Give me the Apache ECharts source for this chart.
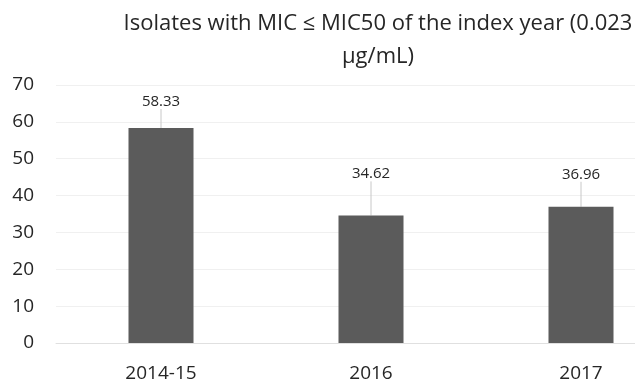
<!DOCTYPE html>
<html>
<head>
<meta charset="utf-8">
<script src="https://cdn.jsdelivr.net/npm/echarts@6/dist/echarts.min.js"></script>
<style>html,body{margin:0;padding:0;background:#fff}#c{width:635px;height:387px}</style>
</head>
<body>
<div id="c"></div>
<script>
const categories = ['2014-15', '2016', '2017'];
const values = [58.33, 34.62, 36.96];
const yTicks = [0, 10, 20, 30, 40, 50, 60, 70];
const titleText = 'Isolates with MIC \u2264 MIC50 of the index year (0.023\n\u00b5g/mL)';
const labelShift = [-14, -29, -20];

const chart = echarts.init(document.getElementById('c'), null, {renderer: 'canvas'});
const font = 'Open Sans, Liberation Sans, sans-serif';
chart.setOption({
  animation: false,
  title: {
    text: titleText,
    left: 373,
    top: 2,
    textAlign: 'center',
    textStyle: {fontFamily: font, fontSize: 22, fontWeight: 'normal', color: '#262626', lineHeight: 33}
  },
  grid: {left: 56, top: 85, width: 630, height: 258, containLabel: false, outerBoundsMode: 'none'},
  xAxis: {
    type: 'category',
    data: categories,
    axisLine: {lineStyle: {color: '#e0e0e0', width: 1}},
    axisTick: {show: false},
    axisLabel: {fontFamily: font, fontSize: 19, color: '#262626', margin: 21}
  },
  yAxis: {
    type: 'value',
    min: yTicks[0],
    max: yTicks[yTicks.length - 1],
    interval: 10,
    axisLine: {show: false},
    axisTick: {show: false},
    splitLine: {lineStyle: {color: '#f0f0f0'}},
    axisLabel: {fontFamily: font, fontSize: 19, color: '#262626', margin: 22}
  },
  series: [{
    type: 'bar',
    data: values,
    barWidth: 65,
    itemStyle: {color: '#5b5b5b'},
    label: {
      show: true,
      position: 'top',
      distance: 5,
      fontFamily: font,
      fontSize: 15,
      color: '#262626',
      formatter: p => p.value.toFixed(2)
    },
    labelLayout: p => ({dy: labelShift[p.dataIndex]}),
    labelLine: {show: true, lineStyle: {color: '#c8c8c8', width: 1}}
  }]
});
</script>
</body>
</html>
